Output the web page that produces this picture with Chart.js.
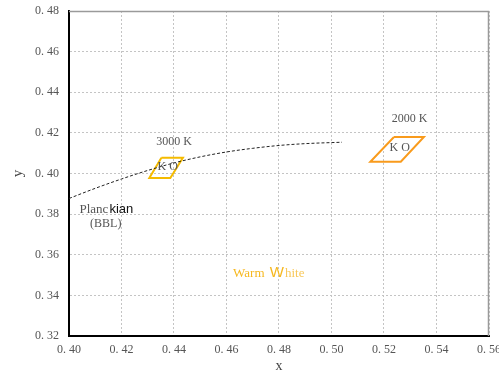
<!DOCTYPE html>
<html>
<head>
<meta charset="utf-8">
<script src="https://cdn.jsdelivr.net/npm/chart.js@4/dist/chart.umd.min.js"></script>
<style>
  html, body { margin: 0; padding: 0; background: #fff; }
  #wrap { width: 499px; height: 373px; }
</style>
</head>
<body>
<div id="wrap"><canvas id="chart"></canvas></div>
<script>
// Planckian locus
const planckX = [0.400, 0.410, 0.420, 0.430, 0.440, 0.450, 0.460, 0.470, 0.480, 0.490, 0.504];
const planckY = [0.3877, 0.3927, 0.3973, 0.4015, 0.4052, 0.4082, 0.4106, 0.4124, 0.4138, 0.4147, 0.4154];

// quadrangles (corners: top-left, top-right, bottom-right, bottom-left, back to start)
const box3000X = [0.4352, 0.4434, 0.4386, 0.4306, 0.4352];
const box3000Y = [0.4078, 0.4078, 0.3978, 0.3978, 0.4078];
const box2000X = [0.5238, 0.5352, 0.5264, 0.5148, 0.5238];
const box2000Y = [0.4180, 0.4180, 0.4058, 0.4058, 0.4180];

// axis ticks
const xTicks = [0.40, 0.42, 0.44, 0.46, 0.48, 0.50, 0.52, 0.54, 0.56];
const yTicks = [0.32, 0.34, 0.36, 0.38, 0.40, 0.42, 0.44, 0.46, 0.48];

// text notes: [text, x, y]
const notes = [
  ['3000 K', 0.4400, 0.4158],
  ['2000 K', 0.5297, 0.4271],
  ['K O', 0.4376, 0.4035],
  ['K O', 0.5260, 0.4124],
  ['(BBL)', 0.4140, 0.3750]
];

const toPts = (xs, ys) => xs.map((x, i) => ({ x: x, y: ys[i] }));
const fmt = v => v.toFixed(2).replace('.', '. ');

const SERIF = '"Liberation Serif", "DejaVu Serif", serif';
const SANS = '"Liberation Sans", Arial, sans-serif';

// draws the free text and the plain frame
const notePlugin = {
  id: 'notes',
  afterDatasetsDraw(chart) {
    const { ctx, scales: { x, y }, chartArea: a } = chart;
    ctx.save();
    // top / right frame in grey
    ctx.strokeStyle = '#9a9a9a';
    ctx.lineWidth = 1.5;
    ctx.beginPath();
    ctx.moveTo(a.left, a.top + 0.5);
    ctx.lineTo(a.right - 0.5, a.top + 0.5);
    ctx.lineTo(a.right - 0.5, a.bottom);
    ctx.stroke();

    ctx.textAlign = 'center';
    ctx.textBaseline = 'middle';
    ctx.fillStyle = '#555';
    ctx.font = '12px ' + SERIF;
    notes.forEach(n => {
      ctx.fillText(n[0], x.getPixelForValue(n[1]), y.getPixelForValue(n[2]));
    });

    // "Planckian": mixed fonts as in the original
    ctx.textAlign = 'left';
    let px = x.getPixelForValue(0.4040), py = y.getPixelForValue(0.3821);
    ctx.font = '13px ' + SERIF;
    ctx.fillStyle = '#555';
    ctx.fillText('Planc', px, py);
    px += ctx.measureText('Planc').width + 1;
    ctx.font = '13px ' + SANS;
    ctx.fillStyle = '#111';
    ctx.fillText('kian', px, py);

    // "Warm White"
    px = x.getPixelForValue(0.4625); py = y.getPixelForValue(0.3509);
    ctx.fillStyle = '#f6b820';
    ctx.font = '13px ' + SERIF;
    ctx.fillText('Warm ', px, py);
    px += ctx.measureText('Warm ').width + 2;
    ctx.font = '15px ' + SANS;
    ctx.fillText('W', px, py);
    px += ctx.measureText('W').width + 1;
    ctx.font = '13px ' + SERIF;
    ctx.fillStyle = '#f8c85a';
    ctx.fillText('hite', px, py);
    ctx.restore();
  }
};

new Chart(document.getElementById('chart'), {
  type: 'scatter',
  data: {
    datasets: [
      {
        label: 'Planckian',
        data: toPts(planckX, planckY),
        showLine: true,
        borderColor: '#222',
        borderWidth: 1,
        borderDash: [3, 2],
        pointRadius: 0,
        cubicInterpolationMode: 'monotone'
      },
      {
        label: '3000 K',
        data: toPts(box3000X, box3000Y),
        showLine: true,
        borderColor: '#f5bb00',
        borderWidth: 2,
        pointRadius: 0
      },
      {
        label: '2000 K',
        data: toPts(box2000X, box2000Y),
        showLine: true,
        borderColor: '#f99b1c',
        borderWidth: 2,
        pointRadius: 0
      }
    ]
  },
  options: {
    responsive: true,
    maintainAspectRatio: false,
    animation: false,
    layout: { padding: { top: 11, right: 10, left: 0, bottom: 0 } },
    plugins: { legend: { display: false }, tooltip: { enabled: false } },
    scales: {
      x: {
        type: 'linear',
        min: 0.40, max: 0.56,
        afterBuildTicks: s => { s.ticks = xTicks.map(v => ({ value: v })); },
        afterFit: s => { s.height = 37; s.paddingLeft = 0; s.paddingRight = 0; },
        ticks: { callback: fmt, color: '#555', font: { family: SERIF, size: 12 }, padding: 7, maxRotation: 0 },
        grid: { color: '#c4c4c4', tickLength: 0, drawTicks: false },
        border: { display: true, color: '#000', width: 2, dash: [2, 2] },
        title: { display: true, text: 'x', color: '#444', font: { family: SERIF, size: 14, lineHeight: 1 }, padding: { top: 0, bottom: 0 } }
      },
      y: {
        type: 'linear',
        min: 0.32, max: 0.48,
        afterBuildTicks: s => { s.ticks = yTicks.map(v => ({ value: v })); },
        afterFit: s => { s.width = 69; s.paddingTop = 0; s.paddingBottom = 0; },
        ticks: { callback: fmt, color: '#555', font: { family: SERIF, size: 12 }, padding: 10 },
        grid: { color: '#c4c4c4', tickLength: 0, drawTicks: false },
        border: { display: true, color: '#000', width: 2, dash: [2, 2] },
        title: { display: true, text: 'y', color: '#444', font: { family: SERIF, size: 15 }, padding: { top: 9, bottom: 0 } }
      }
    }
  },
  plugins: [notePlugin]
});
</script>
</body>
</html>
